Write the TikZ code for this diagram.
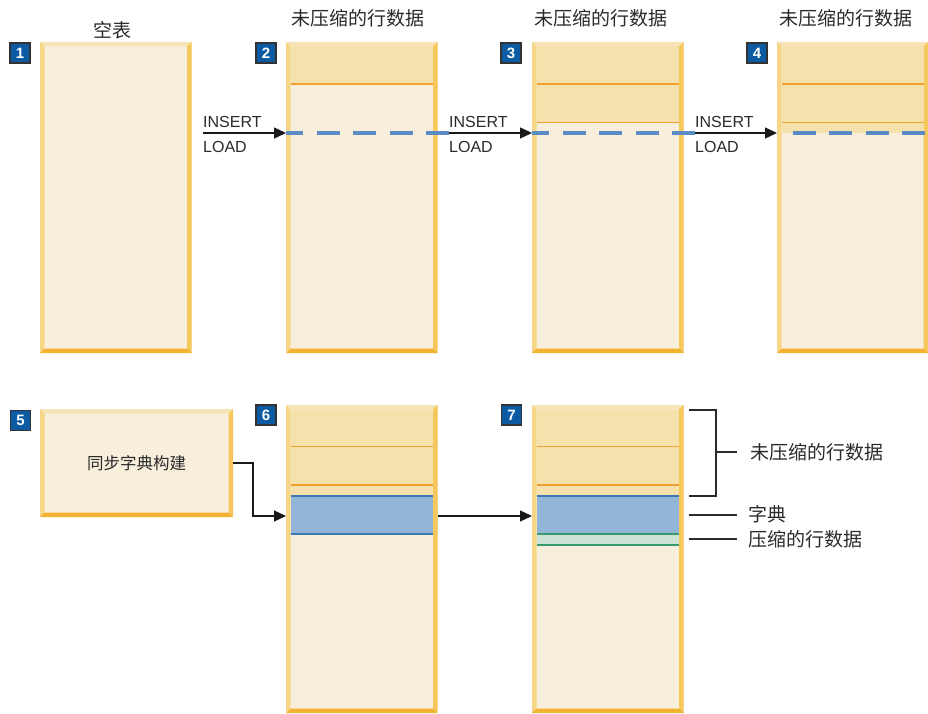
\documentclass[tikz,border=0pt]{standalone}
\usepackage{fontspec}
\setmainfont{Liberation Sans}
\newfontfamily\cjk{Noto Sans CJK SC}
\usetikzlibrary{arrows.meta}

\definecolor{tabfill}{HTML}{F7EFDC}
\definecolor{bandfill}{HTML}{F5E1AC}
\definecolor{bordertop}{HTML}{F6E3B6}
\definecolor{borderleft}{HTML}{F8D687}
\definecolor{borderright}{HTML}{F6C75A}
\definecolor{borderbottom}{HTML}{F3B230}
\definecolor{orangeln}{HTML}{F2A030}
\definecolor{dictfill}{HTML}{93B5D8}
\definecolor{dictln}{HTML}{3C78B5}
\definecolor{compfill}{HTML}{CFE2D6}
\definecolor{compln}{HTML}{3A9A6E}
\definecolor{dashblue}{HTML}{5B8BC5}
\definecolor{badgeblue}{HTML}{0B5AA2}
\definecolor{badgeln}{HTML}{333333}
\definecolor{txtgray}{HTML}{2A2A2A}

\begin{document}
\begin{tikzpicture}[x=1pt, y=-1pt,
  tbl/.style 2 args={inner sep=0pt, outer sep=0pt, anchor=north west, minimum width=#1, minimum height=#2, fill=tabfill,
    path picture={
      \fill[bordertop] (path picture bounding box.north west) -- (path picture bounding box.north east) -- ([xshift=-4.5pt,yshift=-4.5pt]path picture bounding box.north east) -- ([xshift=4.5pt,yshift=-4.5pt]path picture bounding box.north west) -- cycle;
      \fill[borderleft] (path picture bounding box.north west) -- ([xshift=4.5pt,yshift=-4.5pt]path picture bounding box.north west) -- ([xshift=4.5pt,yshift=4.5pt]path picture bounding box.south west) -- (path picture bounding box.south west) -- cycle;
      \fill[borderright] (path picture bounding box.north east) -- (path picture bounding box.south east) -- ([xshift=-4.5pt,yshift=4.5pt]path picture bounding box.south east) -- ([xshift=-4.5pt,yshift=-4.5pt]path picture bounding box.north east) -- cycle;
      \fill[borderbottom] (path picture bounding box.south west) -- (path picture bounding box.south east) -- ([xshift=-4.5pt,yshift=4.5pt]path picture bounding box.south east) -- ([xshift=4.5pt,yshift=4.5pt]path picture bounding box.south west) -- cycle;
    }},
  badge/.style={draw=badgeln, line width=1.5pt, fill=badgeblue, text=white, inner sep=0pt, minimum size=20pt, font=\bfseries\fontsize{15}{15}\selectfont},
  title/.style={text=txtgray, font=\cjk\fontsize{19}{19}\selectfont},
  lbl/.style={inner sep=0pt, anchor=base west, text=txtgray, font=\fontsize{16}{16}\selectfont},
  rlbl/.style={inner sep=0pt, anchor=west, text=txtgray, font=\cjk\fontsize{19}{19}\selectfont},
  band/.style={fill=bandfill},
  oline/.style={draw=orangeln, line width=1.5pt},
  dashln/.style={draw=dashblue, line width=3.5pt, dash pattern=on 23pt off 13.5pt},
  conn/.style={draw=black!90, line width=1.3pt, -{Triangle[length=12pt,width=11pt]}},
  brk/.style={draw=txtgray, line width=1.2pt}]
  \useasboundingbox (0,0) rectangle (928,714);

  % top row: tables
  \node[tbl={151.5pt}{311pt}] (t1) at (40,42) {};
  \node[tbl={151.5pt}{311pt}] (t2) at (286,42) {};
  \node[tbl={151.5pt}{311pt}] (t3) at (532,42) {};
  \node[tbl={151pt}{311pt}] (t4) at (777,42) {};

  \fill[band] (290.5,46.5) rectangle (432.5,84);
  \draw[oline] (290.5,84) -- (432.5,84);
  \fill[band] (536.5,46.5) rectangle (678.5,122.5);
  \draw[oline] (536.5,84) -- (678.5,84);
  \draw[oline] (536.5,122.5) -- (678.5,122.5);
  \fill[band] (781.5,46.5) rectangle (923.5,133);
  \draw[oline] (781.5,84) -- (923.5,84);
  \draw[oline] (781.5,122.5) -- (923.5,122.5);

  \node[title] (h1) at (112,30) {空表};
  \node[title] (h2) at (357.5,18) {未压缩的行数据};
  \node[title] (h3) at (601,18) {未压缩的行数据};
  \node[title] (h4) at (846,18) {未压缩的行数据};

  \node[badge] (n1) at (20,53) {1};
  \node[badge] (n2) at (266,53) {2};
  \node[badge] (n3) at (511,53) {3};
  \node[badge] (n4) at (757,53) {4};

  % insert / load
  \coordinate (ly) at (0,133);
  \node[lbl] (ins1) at (203,128) {INSERT};
  \node[lbl] (ld1) at (203,153) {LOAD};
  \node[lbl] (ins2) at (449,128) {INSERT};
  \node[lbl] (ld2) at (449,153) {LOAD};
  \node[lbl] (ins3) at (695,128) {INSERT};
  \node[lbl] (ld3) at (695,153) {LOAD};

  \draw[dashln] (ins2.west |- ly) -- (ly -| t2.west);
  \draw[dashln] (ins3.west |- ly) -- (ly -| t3.west);
  \draw[dashln] ([xshift=-3pt]ly -| t4.east) -- ([xshift=4pt]ly -| t4.west);

  \draw[conn] (ins1.west |- ly) -- (ly -| t2.west);
  \draw[conn] (ins2.west |- ly) -- (ly -| t3.west);
  \draw[conn] (ins3.west |- ly) -- (ly -| t4.west);

  % bottom row
  \node[tbl={193pt}{108pt}] (b5) at (40,409) {};
  \node[text=txtgray, font=\cjk\fontsize{16.5}{16.5}\selectfont] (s5) at (b5.center) {同步字典构建};
  \node[tbl={151.5pt}{308pt}] (t6) at (286,405) {};
  \node[tbl={151.5pt}{308pt}] (t7) at (532,405) {};

  \fill[band] (290.5,409.5) rectangle (432.5,496);
  \draw[oline] (290.5,446.5) -- (432.5,446.5);
  \draw[oline] (290.5,485) -- (432.5,485);
  \fill[dictfill] (290.5,496) rectangle (432.5,534);
  \draw[draw=dictln, line width=1.5pt] (290.5,496) -- (432.5,496);
  \draw[draw=dictln, line width=1.5pt] (290.5,534) -- (432.5,534);

  \fill[band] (536.5,409.5) rectangle (678.5,496);
  \draw[oline] (536.5,446.5) -- (678.5,446.5);
  \draw[oline] (536.5,485) -- (678.5,485);
  \fill[dictfill] (536.5,496) rectangle (678.5,534);
  \draw[draw=dictln, line width=1.5pt] (536.5,496) -- (678.5,496);
  \fill[compfill] (536.5,534) rectangle (678.5,545);
  \draw[draw=compln, line width=1.5pt] (536.5,534) -- (678.5,534);
  \draw[draw=compln, line width=1.5pt] (536.5,545) -- (678.5,545);

  \node[badge] (n5) at (20.5,420.5) {5};
  \node[badge] (n6) at (266,415) {6};
  \node[badge] (n7) at (511.5,415) {7};

  \coordinate (dy) at (0,516);
  \draw[conn] (b5.east) -- ++(20,0) |- (dy -| t6.west);
  \draw[conn] (dy -| t6.east) -- (dy -| t7.west);

  % legend
  \node[rlbl] (r1) at (750,452) {未压缩的行数据};
  \node[rlbl] (r2) at (748,514) {字典};
  \node[rlbl] (r3) at (748,539) {压缩的行数据};
  \coordinate (bt) at (689,410);
  \coordinate (bb) at (689,496);
  \coordinate (bm) at (716,452);
  \draw[brk] (bt) -| (bm) |- (bb);
  \draw[brk] (bm) -- ([xshift=-13pt]r1.west);
  \draw[brk] (689,515) -- ([xshift=-11pt]r2.west |- 0,515);
  \draw[brk] (689,539) -- ([xshift=-11pt]r3.west);
\end{tikzpicture}
\end{document}
